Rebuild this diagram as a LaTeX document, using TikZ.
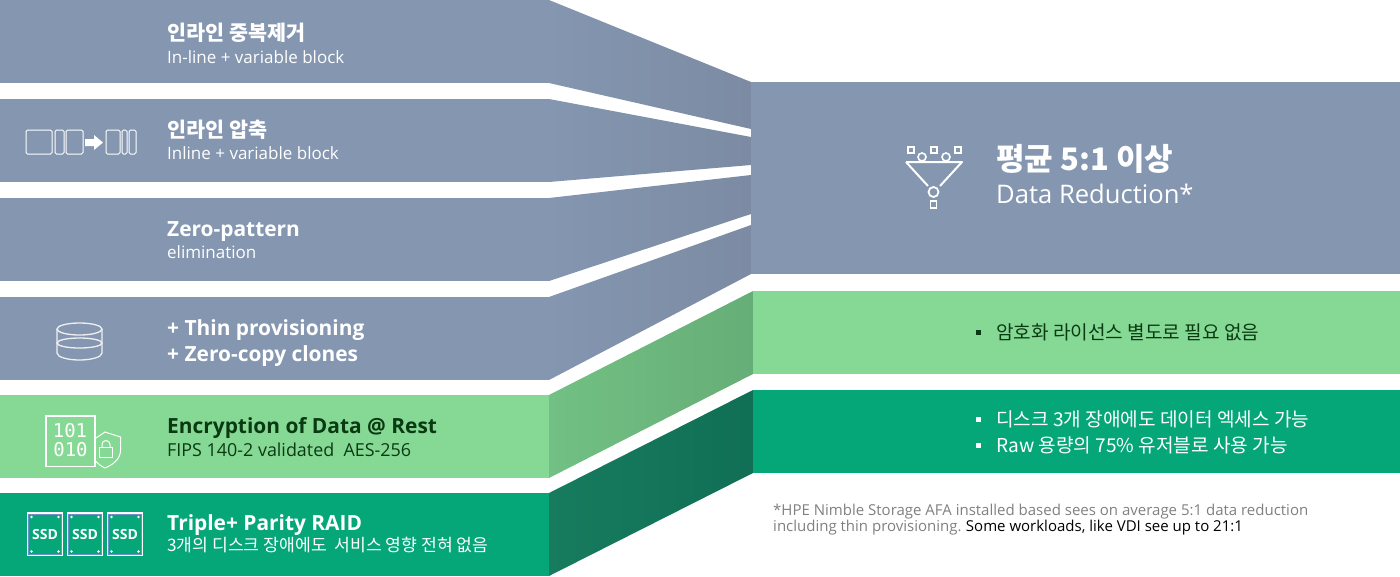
\documentclass[tikz,border=0pt]{standalone}
\usepackage{fontspec}
\setmainfont{Open Sans}
\newfontfamily\kr{Noto Sans CJK KR}
\newfontfamily\digits{DejaVu Sans Mono}
\definecolor{slate}{HTML}{8496B0}
\definecolor{slatedk}{HTML}{7C8BA3}
\definecolor{mint}{HTML}{86D995}
\definecolor{mintlo}{HTML}{72C083}
\definecolor{mintdk}{HTML}{66AE77}
\definecolor{teal}{HTML}{05A678}
\definecolor{teallo}{HTML}{177B5E}
\definecolor{tealdk}{HTML}{106F55}
\definecolor{ink}{HTML}{0A3A12}
\definecolor{note}{HTML}{808080}
\definecolor{ssdblue}{HTML}{6F8FCB}
\tikzset{
	head/.style={anchor=base west, inner sep=0pt, font=\fontsize{20.9}{24}\selectfont\bfseries, white},
	headkr/.style={head, font=\fontsize{20.7}{24}\selectfont\kr\bfseries},
	sub/.style={anchor=base west, inner sep=0pt, font=\fontsize{17}{21}\selectfont, white},
	bullet/.style={anchor=base west, inner sep=0pt, font=\fontsize{19.1}{22}\selectfont\kr},
	foot/.style={anchor=base west, inner sep=0pt, font=\fontsize{15}{18}\selectfont},
	icon/.style={draw=white, line width=1pt, rounded corners=1.5pt},
	ssd/.style={draw=white, line width=1.6pt},
}
\begin{document}
\begin{tikzpicture}[x=1pt, y=-1pt]
	\useasboundingbox (0,0) rectangle (1400,576);
	% left bars
	\foreach \y/\c in {0/slate, 99/slate, 198/slate, 297/slate, 395/mint, 493/teal}
		\fill[\c] (0,\y) rectangle (549,\y+83);
	% funnels
	\shade[left color=slate, right color=slatedk] (549,0) -- (751,82) -- (751,129) -- (549,83) -- cycle;
	\shade[left color=slate, right color=slatedk] (549,99) -- (751,137) -- (751,165) -- (549,182) -- cycle;
	\shade[left color=slate, right color=slatedk] (549,198) -- (751,175) -- (751,214) -- (549,281) -- cycle;
	\shade[left color=slate, right color=slatedk] (549,297) -- (751,225) -- (751,274) -- (549,380) -- cycle;
	\shade[left color=mintlo, right color=mintdk] (549,395) -- (753,291) -- (753,374) -- (549,478) -- cycle;
	\shade[left color=teallo, right color=tealdk] (549,493) -- (753,390) -- (753,473) -- (549,576) -- cycle;
	% right bars
	\fill[slate] (751,82) rectangle (1400,274);
	\fill[mint] (753,291) rectangle (1400,374);
	\fill[teal] (753,390) rectangle (1400,473);
	% left texts
	\node[headkr] (dedup) at (167,40) {인라인 중복제거};
	\node[sub] (dedupsub) at (167,63) {In-line + variable block};
	\node[headkr] (comp) at (167,137) {인라인 압축};
	\node[sub] (compsub) at (167,159) {Inline + variable block};
	\node[head] (zero) at (167,236) {Zero-pattern};
	\node[sub] (zerosub) at (167,258) {elimination};
	\node[head] (thin) at (167,335) {+ Thin provisioning};
	\node[head] (clone) at (167,361) {+ Zero-copy clones};
	\node[head, ink] (enc) at (167,433) {Encryption of Data @ Rest};
	\node[sub, ink, font=\fontsize{17.9}{21}\selectfont] (encsub) at (167,456) {FIPS 140-2 validated\ \ AES-256};
	\node[head] (raid) at (167,530) {Triple+ Parity RAID};
	\node[sub, font=\fontsize{17.2}{21}\selectfont\kr] (raidsub) at (167,551) {3개의 디스크 장애에도\ \ 서비스 영향 전혀 없음};
	% right texts
	\node[head, font=\fontsize{31}{36}\selectfont\kr\bfseries] (avg) at (996,170) {평균 5:1 이상};
	\node[sub, font=\fontsize{25.6}{30}\selectfont] (reduct) at (996,203) {Data Reduction*};
	\fill[ink] (976,330) rectangle (981,335);
	\node[bullet, ink] (lic) at (996,339) {암호화 라이선스 별도로 필요 없음};
	\fill[white] (976,417) rectangle (981,422);
	\node[bullet, white] (disk) at (996,426) {디스크 3개 장애에도 데이터 엑세스 가능};
	\fill[white] (976,443) rectangle (981,448);
	\node[bullet, white] (raw) at (996,452) {Raw 용량의 75\% 유저블로 사용 가능};
	\node[foot, note] (fn1) at (773,515) {*HPE Nimble Storage AFA installed based sees on average 5:1 data reduction};
	\node[foot, note] (fn2) at (773,531) {including thin provisioning.};
	\node[foot, black, xshift=4pt] (fn3) at (fn2.base east) {Some workloads, like VDI see up to 21:1};
	% compress icon
	\foreach \a/\b in {26/52, 55/64, 66/83, 106/120, 122/127, 129/136}
		\draw[icon] (\a,130) rectangle (\b,154);
	\fill[white] (85,139) -- (94,139) -- (94,135) -- (103,142.5) -- (94,150) -- (94,146) -- (85,146) -- cycle;
	% disk icon
	\draw[white!88!gray, line width=1.3pt] (79.5,329) ellipse (22.5 and 6);
	\draw[white!88!gray, line width=1.3pt] (79.5,343) ellipse (22.5 and 5);
	\draw[white!88!gray, line width=1.3pt] (57,329) -- (57,353) arc[start angle=180, end angle=360, x radius=22.5, y radius=-7] -- (102,329);
	% crypt icon
	\draw[white, line width=1.8pt] (46,416) rectangle (95,466.5);
	\node[white, inner sep=0pt, font=\fontsize{19}{22}\selectfont\digits] (one) at (70,430.5) {101};
	\node[white, inner sep=0pt, font=\fontsize{19}{22}\selectfont\digits] (two) at (70.5,450) {010};
	\draw[white, line width=1pt] (96,438) -- (105,432) -- (120.5,437) -- (120.5,451) .. controls (120,460) and (112,465) .. (105,468) .. controls (101,466) and (98,464) .. (95.5,461);
	\draw[white, line width=1pt] (99.5,447) rectangle (112.5,457);
	\draw[white, line width=1pt] (102,447) -- (102,444.5) arc[start angle=180, end angle=0, x radius=4, y radius=-4] -- (110,447);
	% ssd icons
	\foreach \x in {27.5,67.5,107.5} {
		\draw[ssd] (\x,513) rectangle (\x+35,555.5);
		\draw[ssdblue, line width=.8pt] (\x+1.3,514.3) rectangle (\x+33.7,554.2);
		\node[white, inner sep=0pt, font=\fontsize{14}{15}\selectfont\bfseries] (ssd\x) at (\x+17.5,534.5) {SSD};
		\foreach \u/\v in {4/4, 31/4, 4/38.5, 31/38.5}
			\fill[white] (\x+\u,513+\v) circle (1.3);
	}
	% funnel icon
	\draw[white, line width=2pt, line join=round] (906,162) -- (962,162) -- (940,186) (906,162) -- (928,186);
	\draw[white, line width=1.8pt] (933.5,192) circle (5);
	\foreach \x in {911,934,958}
		\draw[white, line width=1.6pt] (\x-3,147) rectangle (\x+3,153);
	\foreach \x in {922,946}
		\draw[white, line width=1.6pt] (\x,157) circle (4);
	\draw[white, line width=1.6pt] (930.5,201) rectangle (936.5,208);
\end{tikzpicture}
\end{document}
